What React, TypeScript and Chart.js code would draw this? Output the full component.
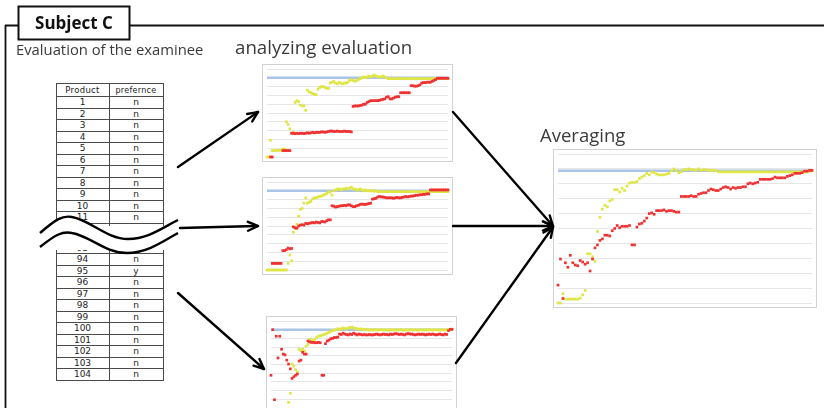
import React, { useEffect, useRef } from 'react';
import { Chart, registerables } from 'chart.js';

Chart.register(...registerables);

// ---------------- DATA ----------------
// Table (preferences of the examinee)
const TOP_PRODUCTS = ['1', '2', '3', '4', '5', '6', '7', '8', '9', '10', '11', '12'];
const TOP_PREFS = ['n', 'n', 'n', 'n', 'n', 'n', 'n', 'n', 'n', 'n', 'n', 'n'];
const BOTTOM_PRODUCTS = ['93', '94', '95', '96', '97', '98', '99', '100', '101', '102', '103', '104'];
const BOTTOM_PREFS = ['n', 'n', 'y', 'n', 'n', 'n', 'n', 'n', 'n', 'n', 'n', 'n'];

// Target level (blue line) per chart
const TARGET_LEVELS = [9, 9, 9, 8.87];

// Analyzing evaluation 1
const RED_1 = [
  null, null, 0, 0, null, null, null, null, null, 0.73,
  0.73, 0.73, 0.73, 0.73, 2.7, 2.7, 2.65, 2.7, 2.65, 2.7,
  2.7, 2.65, 2.7, 2.75, 2.7, 2.75, 2.8, 2.75, 2.8, 2.8,
  2.8, 2.85, 2.85, 2.8, 2.85, 2.9, 2.95, 2.95, 2.9, 2.9,
  2.95, 2.9, 2.9, 2.9, 2.95, 2.9, 2.9, 2.9, 2.85, 5.75,
  5.8, 5.8, 5.8, 5.85, 5.9, 6.0, 6.0, 6.2, 6.3, 6.4,
  6.4, 6.4, 6.4, 6.4, 6.45, 6.5, 6.55, 6.6, 6.8, 6.85,
  6.6, 6.6, 6.7, 6.8, 6.85, 6.85, 7.3, 7.3, 7.3, 7.3,
  7.3, 7.3, 8.1, 8.1, 8.05, 8.05, 8.1, 8.2, 8.4, 8.45,
  8.45, 8.5, 8.5, 8.5, 8.6, 8.7, 8.8, 8.95, 8.95, 8.95,
  8.95, 8.95, 8.95, 8.95,
];
const YELLOW_1 = [
  0, 0, 1.9, 0.73, 0.73, 0.75, 0.75, 0.75, 0.8, 0.9,
  0.9, 4.0, 3.7, 3.2, 2.7, 2.8, 6.2, 6.4, 6.3, 5.9,
  5.8, 5.8, 5.3, 7.6, 7.4, 7.3, 7.2, 7.1, 7.1, 7.7,
  7.9, 8.0, 8.0, 7.9, 7.8, 7.8, 8.4, 8.5, 8.6, 8.4,
  8.3, 8.5, 8.4, 8.3, 8.4, 8.4, 8.5, 8.7, 8.8, 8.7,
  8.6, 8.7, 8.8, 8.9, 9.0, 9.1, 9.0, 9.1, 9.2, 9.1,
  9.2, 9.3, 9.2, 9.1, 9.1, 9.1, 9.2, 9.1, 9.0, 8.9,
  8.9, 8.9, 8.9, 8.9, 8.9, 8.9, 8.9, 8.9, 8.9, 8.9,
  8.9, 8.9, 8.9, 8.9, 8.9, 8.9, 8.9, 8.9, 8.9, 8.9,
  8.9, 8.9, 8.9, 8.9, 8.9, 8.9, 8.9, 8.9, 8.9, 8.9,
  8.9, 8.9, 8.9, 8.9,
];

// Analyzing evaluation 2
const RED_2 = [
  null, null, null, 0.75, 0.75, 0.75, 0.75, 0.75, 0.75, 2.2,
  2.2, 2.3, 2.5, 2.4, 2.45, 4.9, 4.8, 4.75, 5.0, 5.1,
  5.15, 5.1, 5.3, 5.25, 5.3, 5.35, 5.4, 5.35, 5.45, 5.4,
  5.35, 5.5, 5.5, 5.45, 5.6, 5.7, 5.7, 7.3, 7.25, 7.15,
  7.2, 7.25, 7.3, 7.3, 7.35, 7.3, 7.4, 7.4, 7.3, 7.2,
  7.2, 7.3, 7.35, 7.45, 7.5, 7.45, 7.45, 7.5, 7.55, 7.6,
  8.05, 8.1, 8.15, 8.3, 8.35, 8.3, 8.3, 8.25, 8.2, 8.2,
  8.2, 8.2, 8.15, 8.2, 8.25, 8.2, 8.2, 8.25, 8.3, 8.35,
  8.3, 8.35, 8.4, 8.4, 8.45, 8.5, 8.5, 8.55, 8.55, 8.6,
  8.6, 8.65, 8.65, 9.1, 9.1, 9.1, 9.1, 9.1, 9.1, 9.1,
  9.1, 9.1, 9.1, 9.1,
];
const YELLOW_2 = [
  0, 0, 0, 0, 0, 0, 0, 0, 0, 0,
  0, 0, 0.75, 1.7, 1.05, 4.3, 4.7, 5.2, 6.1, 6.9,
  7.0, 7.6, 8.2, 7.6, 7.7, 7.8, 8.1, 8.2, 8.2, 8.3,
  8.35, 8.4, 8.5, 8.6, 8.7, 8.9, 8.85, 8.5, 9.0, 9.1,
  9.2, 9.2, 9.1, 9.2, 9.2, 9.3, 9.2, 9.3, 9.4, 9.2,
  9.2, 9.1, 9.1, 9.2, 9.1, 9.0, 9.1, 9.0, 9.0, 9.0,
  9.0, 8.95, 9.0, 8.9, 8.9, 8.9, 8.9, 8.9, 8.9, 8.9,
  8.9, 8.9, 8.9, 8.9, 8.9, 8.9, 8.9, 8.9, 8.9, 8.9,
  8.9, 8.9, 8.9, 8.9, 8.9, 8.9, 8.9, 8.9, 8.9, 8.9,
  8.9, 8.9, 8.9, 8.9, 8.9, 8.9, 8.9, 8.9, 8.9, 8.9,
  8.9, 8.9, 8.9, 8.9,
];

// Analyzing evaluation 3
const RED_3 = [
  3.76, 9.0, 0.95, 8.25, 5.75, 8.25, 6.75, 6.2, 6.1, 5.5,
  5.05, 4.5, 3.4, 3.6, 3.76, 3.9, 5.4, 5.5, 6.4, 6.2,
  6.2, 7.7, 7.6, 7.55, 7.55, 7.5, 7.5, 7.55, 7.5, 3.76,
  3.76, 7.4, 7.7, 7.8, 7.95, 8.0, 8.1, 8.1, 8.15, 8.5,
  8.45, 8.6, 8.5, 8.45, 8.4, 8.5, 8.45, 8.6, 8.5, 8.4,
  8.5, 8.45, 8.4, 8.45, 8.4, 8.4, 8.45, 8.4, 8.4, 8.45,
  8.5, 8.45, 8.4, 8.45, 8.5, 8.45, 8.45, 8.4, 8.5, 8.45,
  8.5, 8.55, 8.5, 8.45, 8.5, 8.45, 8.4, 8.5, 8.55, 8.5,
  8.5, 8.45, 8.4, 8.45, 8.5, 8.45, 8.5, 8.45, 8.4, 8.45,
  8.5, 8.45, 8.5, 8.45, 8.4, 8.45, 8.5, 8.45, 8.4, 8.5,
  8.45, 8.9, 9.05, 9.05,
];
const YELLOW_3 = [
  null, null, null, null, null, null, null, null, null, null,
  0.65, 1.7, 5.05, 4.8, 4.4, 4.1, 6.75, 6.6, 6.75, 6.55,
  7.1, 7.3, 7.9, 7.8, 7.7, 7.9, 8.1, 8.25, 8.3, 8.35,
  8.45, 8.5, 8.6, 8.7, 8.8, 8.9, 8.95, 9.0, 9.1, 9.05,
  9.1, 9.2, 9.15, 9.1, 9.2, 9.25, 9.3, 9.2, 9.15, 9.1,
  9.05, 9.1, 9.05, 9.0, 9.05, 9.0, 8.95, 9.0, 8.95, 9.0,
  9.0, 8.95, 9.0, 9.0, 8.95, 9.0, 8.95, 8.95, 9.0, 9.0,
  8.95, 9.0, 8.95, 9.0, 9.0, 8.95, 8.95, 9.0, 8.95, 9.0,
  9.0, 8.95, 9.0, 8.95, 8.95, 9.0, 9.0, 8.95, 9.0, 8.95,
  9.0, 9.0, 8.95, 9.0, 8.95, 9.0, 8.95, 9.0, 9.0, 8.95,
  9.0, 9.0, 9.0, 9.05,
];

// Averaging
const RED_AVG = [
  1.2, 2.95, 0.3, 2.7, 2.4, 3.2, 2.7, 2.55, 2.5, 2.85,
  2.75, 2.6, 2.7, 2.15, 2.95, 3.7, 3.9, 4.2, 4.3, 4.55,
  4.55, 4.5, 4.85, 5.0, 5.2, 5.05, 5.15, 5.15, 5.15, 5.2,
  3.9, 3.9, 5.1, 5.3, 5.35, 5.5, 5.7, 6.0, 6.05, 5.95,
  6.2, 6.2, 6.2, 6.25, 6.15, 6.2, 6.2, 6.15, 6.1, 6.1,
  7.15, 7.15, 7.15, 7.15, 7.2, 7.15, 7.15, 7.3, 7.35, 7.4,
  7.4, 7.55, 7.65, 7.6, 7.55, 7.55, 7.65, 7.75, 7.8, 7.75,
  7.65, 7.75, 7.7, 7.75, 7.75, 7.8, 7.8, 8.0, 8.05, 8.0,
  8.05, 8.1, 8.3, 8.3, 8.3, 8.3, 8.3, 8.35, 8.45, 8.4,
  8.4, 8.4, 8.4, 8.5, 8.55, 8.6, 8.7, 8.7, 8.7, 8.75,
  8.85, 8.85, 8.9, 8.9,
];
const YELLOW_AVG = [
  0, 0, 0.62, 0.26, 0.26, 0.26, 0.26, 0.26, 0.26, 0.33,
  0.55, 0.84, 3.3, 3.3, 3.1, 2.8, 4.8, 5.75, 6.3, 6.55,
  6.45, 6.85, 6.95, 7.6, 7.6, 7.45, 7.7, 7.55, 7.85, 8.05,
  8.1, 8.1, 8.15, 8.35, 8.45, 8.55, 8.7, 8.6, 8.8, 8.75,
  8.65, 8.6, 8.6, 8.6, 8.65, 8.7, 8.87, 9.0, 8.9, 8.75,
  8.8, 8.95, 8.95, 9.0, 8.95, 8.95, 8.9, 9.0, 8.9, 8.95,
  8.95, 8.9, 8.9, 8.9, 8.9, 8.8, 8.8, 8.8, 8.8, 8.8,
  8.8, 8.8, 8.8, 8.8, 8.8, 8.8, 8.8, 8.8, 8.8, 8.8,
  8.8, 8.8, 8.8, 8.8, 8.8, 8.8, 8.8, 8.8, 8.8, 8.8,
  8.8, 8.8, 8.8, 8.8, 8.8, 8.8, 8.8, 8.8, 8.8, 8.8,
  8.8, 8.8, 8.85, 8.87,
];

// ---------------- STYLE ----------------
const RED = '#ef3131';
const YELLOW = '#dfe645';
const BLUE = '#aac3e6';
const GRID = '#e6e6e6';

type Pad = { left: number; right: number; top: number; bottom: number };

function MiniChart(props: {
  red: (number | null)[];
  yellow: (number | null)[];
  target: number;
  left: number;
  top: number;
  width: number;
  height: number;
  pad: Pad;
  radius: number;
}) {
  const ref = useRef<HTMLCanvasElement | null>(null);
  useEffect(() => {
    if (!ref.current) return;
    const n = props.red.length;
    const chart = new Chart(ref.current, {
      type: 'scatter',
      data: {
        datasets: [
          {
            label: 'red',
            data: props.red.map((v, i) => ({ x: i, y: v as any })),
            backgroundColor: RED,
            borderWidth: 0,
            pointStyle: 'rect',
            pointRadius: props.radius,
            clip: false as any,
            order: 0,
          },
          {
            label: 'yellow',
            data: props.yellow.map((v, i) => ({ x: i, y: v as any })),
            backgroundColor: YELLOW,
            borderWidth: 0,
            pointStyle: 'rect',
            pointRadius: props.radius,
            clip: false as any,
            order: 1,
          },
          {
            label: 'target',
            type: 'line' as any,
            data: [
              { x: 0, y: props.target },
              { x: n - 1, y: props.target },
            ],
            borderColor: BLUE,
            borderWidth: 2.5,
            pointRadius: 0,
            showLine: true,
            order: 2,
          } as any,
        ],
      },
      options: {
        responsive: false,
        animation: false,
        devicePixelRatio: 1,
        layout: { padding: props.pad },
        plugins: { legend: { display: false }, tooltip: { enabled: false } },
        events: [],
        scales: {
          x: { type: 'linear', min: 0, max: n - 1, display: false },
          y: {
            min: 0,
            max: 10,
            ticks: { display: false, stepSize: 1 },
            grid: { color: GRID, drawTicks: false, lineWidth: 1 },
            border: { display: false },
          },
        },
      },
    });
    return () => chart.destroy();
  }, []);
  return (
    <div
      style={{
        position: 'absolute',
        left: props.left,
        top: props.top,
        width: props.width,
        height: props.height,
        border: '1px solid #d2d2d2',
        background: '#fff',
      }}
    >
      <canvas ref={ref} width={props.width} height={props.height} style={{ display: 'block' }} />
    </div>
  );
}

function TablePart(props: {
  top: number;
  clipHeight: number;
  firstRowY: number;
  header: boolean;
  products: string[];
  prefs: string[];
}) {
  const colW = [53, 54];
  const headerH = props.header ? 13 : 0;
  const rowH = 11.5;
  const lineColor = '#4a4a4a';
  const y0 = props.firstRowY;
  const totalH = y0 + headerH + props.products.length * rowH;
  const hLines: number[] = [];
  if (props.header) hLines.push(y0);
  for (let i = 0; i <= props.products.length; i++) hLines.push(y0 + headerH + i * rowH);
  const cellFont = { fontFamily: '"DejaVu Sans", sans-serif', color: '#222' };
  return (
    <div
      style={{
        position: 'absolute',
        left: 56,
        top: props.top,
        width: colW[0] + colW[1] + 1,
        height: props.clipHeight,
        overflow: 'hidden',
      }}
    >
      {[0, colW[0], colW[0] + colW[1]].map((x, i) => (
        <div key={'v' + i} style={{ position: 'absolute', left: x, top: Math.max(0, y0), width: 1, height: totalH - Math.max(0, y0), background: lineColor }} />
      ))}
      {hLines.map((y, i) => (
        <div key={'h' + i} style={{ position: 'absolute', left: 0, top: y, width: colW[0] + colW[1] + 1, height: 1, background: lineColor }} />
      ))}
      {props.header && (
        <>
          <div style={{ ...cellFont, position: 'absolute', left: 0, top: y0 + 1, width: colW[0], height: 12, fontSize: 8.5, lineHeight: '13px', textAlign: 'center', letterSpacing: 0.3 }}>Product</div>
          <div style={{ ...cellFont, position: 'absolute', left: colW[0], top: y0 + 1, width: colW[1], height: 12, fontSize: 8, lineHeight: '13px', textAlign: 'center', letterSpacing: 0.3 }}>prefernce</div>
        </>
      )}
      {props.products.map((p, i) => (
        <React.Fragment key={'r' + i}>
          <div style={{ ...cellFont, position: 'absolute', left: 0, top: y0 + headerH + i * rowH, width: colW[0], height: rowH, fontSize: 9, lineHeight: '12.5px', textAlign: 'center' }}>{p}</div>
          <div style={{ ...cellFont, position: 'absolute', left: colW[0], top: y0 + headerH + i * rowH, width: colW[1], height: rowH, fontSize: 9, lineHeight: '13px', textAlign: 'center' }}>{props.prefs[i]}</div>
        </React.Fragment>
      ))}
    </div>
  );
}

function Arrow(props: { x1: number; y1: number; x2: number; y2: number }) {
  const { x1, y1, x2, y2 } = props;
  const a = Math.atan2(y2 - y1, x2 - x1);
  const L = 11;
  const s = 0.42;
  const p1 = `${x2 - L * Math.cos(a - s)},${y2 - L * Math.sin(a - s)}`;
  const p2 = `${x2 - L * Math.cos(a + s)},${y2 - L * Math.sin(a + s)}`;
  return (
    <g stroke="#000" strokeWidth={2.4} fill="none" strokeLinecap="round" strokeLinejoin="round">
      <line x1={x1} y1={y1} x2={x2} y2={y2} />
      <polyline points={`${p1} ${x2},${y2} ${p2}`} />
    </g>
  );
}

const UPPER_WAVE = 'M 40 233 C 55 220, 62 215, 72 217 C 90 220, 107 239, 128 239 C 148 239, 162 228, 178 220';
const LOWER_WAVE = 'M 40 247 C 55 235, 62 231, 72 233 C 90 236, 105 253, 127 253 C 147 253, 162 242, 178 233';
const BAND =
  'M 40 233 C 55 220, 62 215, 72 217 C 90 220, 107 239, 128 239 C 148 239, 162 228, 178 220 ' +
  'L 178 233 C 162 242, 147 253, 127 253 C 105 253, 90 236, 72 233 C 62 231, 55 235, 40 247 Z';

const titleFont = '"Open Sans", Lato, sans-serif';

export default function App() {
  return (
    <div
      style={{
        position: 'absolute',
        left: 0,
        top: 0,
        width: 824,
        height: 408,
        overflow: 'hidden',
        background: '#fff',
      }}
    >
      <TablePart top={83} clipHeight={143} firstRowY={0} header products={TOP_PRODUCTS} prefs={TOP_PREFS} />
      <TablePart top={250} clipHeight={158} firstRowY={-8.2} header={false} products={BOTTOM_PRODUCTS} prefs={BOTTOM_PREFS} />

      <MiniChart red={RED_1} yellow={YELLOW_1} target={TARGET_LEVELS[0]} left={262} top={64} width={189} height={96}
        pad={{ left: 4, right: 3, top: 2, bottom: 4 }} radius={1.9} />
      <MiniChart red={RED_2} yellow={YELLOW_2} target={TARGET_LEVELS[1]} left={262} top={177} width={189} height={96}
        pad={{ left: 4, right: 3, top: 4, bottom: 3 }} radius={1.9} />
      <MiniChart red={RED_3} yellow={YELLOW_3} target={TARGET_LEVELS[2]} left={266} top={316} width={189} height={98}
        pad={{ left: 3, right: 3, top: 2, bottom: 7 }} radius={1.9} />
      <MiniChart red={RED_AVG} yellow={YELLOW_AVG} target={TARGET_LEVELS[3]} left={553} top={149} width={262} height={157}
        pad={{ left: 4, right: 3, top: 2, bottom: 4 }} radius={1.9} />

      <svg width={824} height={408} style={{ position: 'absolute', left: 0, top: 0, pointerEvents: 'none' }}>
        {/* frame */}
        <line x1={5} y1={25.5} x2={824} y2={25.5} stroke="#111" strokeWidth={1.8} />
        <line x1={5.5} y1={25} x2={5.5} y2={408} stroke="#111" strokeWidth={1.8} />
        <rect x={18.5} y={6.5} width={111} height={33} fill="#fff" stroke="#111" strokeWidth={2} />
        {/* wavy break */}
        <path d={BAND} fill="#fff" stroke="none" />
        <path d={UPPER_WAVE} fill="none" stroke="#000" strokeWidth={2.4} />
        <path d={LOWER_WAVE} fill="none" stroke="#000" strokeWidth={2.4} />
        {/* arrows */}
        <Arrow x1={178} y1={167} x2={258} y2={112} />
        <Arrow x1={180} y1={228} x2={258} y2={226} />
        <Arrow x1={178} y1={293} x2={264} y2={369} />
        <Arrow x1={453} y1={112} x2={553} y2={226} />
        <Arrow x1={453} y1={226} x2={553} y2={226} />
        <Arrow x1={456} y1={363} x2={553} y2={227} />
      </svg>

      <div style={{ position: 'absolute', left: 18, top: 6, width: 112, height: 33, display: 'flex', alignItems: 'center', justifyContent: 'center',
        fontFamily: titleFont, fontWeight: 700, fontSize: 17, color: '#111' }}>Subject C</div>
      <div style={{ position: 'absolute', left: 16, top: 39.5, fontFamily: titleFont, fontSize: 14.8, lineHeight: '18px', color: '#3a3a3a', whiteSpace: 'nowrap' }}>
        Evaluation of the examinee
      </div>
      <div style={{ position: 'absolute', left: 235, top: 35.5, fontFamily: titleFont, fontSize: 18.7, lineHeight: '22px', color: '#3a3a3a', whiteSpace: 'nowrap' }}>
        analyzing evaluation
      </div>
      <div style={{ position: 'absolute', left: 540, top: 123.5, fontFamily: titleFont, fontSize: 18.5, lineHeight: '22px', color: '#3a3a3a', whiteSpace: 'nowrap' }}>
        Averaging
      </div>
    </div>
  );
}
